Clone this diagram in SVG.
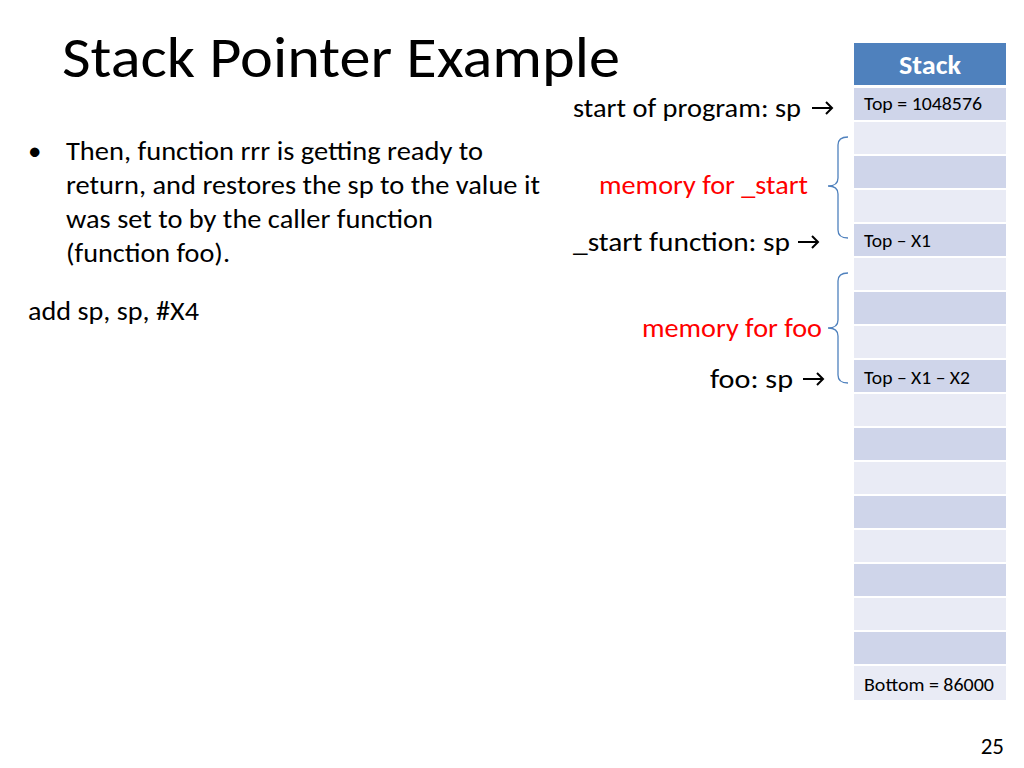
<svg xmlns="http://www.w3.org/2000/svg" width="1024" height="768" viewBox="0 0 1024 768">
<style>
text{font-family:Carlito,Calibri,"Liberation Sans",sans-serif;}
.b{font-size:27px;fill:#000}
.r{font-size:27px;fill:#ff0000}
.c{font-size:18px;fill:#000}
.d{fill:#CFD5EA}.l{fill:#E9EBF5}
.br{fill:none;stroke:#4F81BD;stroke-width:1.3}
</style>
<defs><marker id="a" markerWidth="12" markerHeight="14" refX="9" refY="7" orient="auto" markerUnits="userSpaceOnUse"><path d="M3,1 L9,7 L3,13" fill="none" stroke="#000" stroke-width="2"/></marker></defs>
<rect width="1024" height="768" fill="#fff"/>
<text x="62" y="77" style="font-size:58px" textLength="558" lengthAdjust="spacingAndGlyphs">Stack Pointer Example</text>
<g id="bullet">
<text x="28" y="160" class="b">•</text>
<text x="66" y="160" class="b" textLength="417" lengthAdjust="spacingAndGlyphs">Then, function rrr is getting ready to</text>
<text x="66" y="194" class="b" textLength="474" lengthAdjust="spacingAndGlyphs">return, and restores the sp to the value it</text>
<text x="66" y="228" class="b" textLength="367" lengthAdjust="spacingAndGlyphs">was set to by the caller function</text>
<text x="66" y="262" class="b" textLength="164" lengthAdjust="spacingAndGlyphs">(function foo).</text>
<text x="28" y="320" class="b" textLength="171" lengthAdjust="spacingAndGlyphs">add sp, sp, #X4</text>
</g>
<g id="stack">
<rect x="854" y="43" width="152" height="42" fill="#4F81BD"/>
<text x="899" y="74" style="font-size:26px;font-weight:bold;fill:#fff" textLength="62" lengthAdjust="spacingAndGlyphs">Stack</text>
<rect x="854" y="88" width="152" height="32" class="d"/>
<rect x="854" y="122" width="152" height="32" class="l"/>
<rect x="854" y="156" width="152" height="32" class="d"/>
<rect x="854" y="190" width="152" height="32" class="l"/>
<rect x="854" y="224" width="152" height="32" class="d"/>
<rect x="854" y="258" width="152" height="32" class="l"/>
<rect x="854" y="292" width="152" height="32" class="d"/>
<rect x="854" y="326" width="152" height="32" class="l"/>
<rect x="854" y="360" width="152" height="32" class="d"/>
<rect x="854" y="394" width="152" height="32" class="l"/>
<rect x="854" y="428" width="152" height="32" class="d"/>
<rect x="854" y="462" width="152" height="32" class="l"/>
<rect x="854" y="496" width="152" height="32" class="d"/>
<rect x="854" y="530" width="152" height="32" class="l"/>
<rect x="854" y="564" width="152" height="32" class="d"/>
<rect x="854" y="598" width="152" height="32" class="l"/>
<rect x="854" y="632" width="152" height="32" class="d"/>
<rect x="854" y="666" width="152" height="34" class="l"/>
<text x="864" y="110" class="c" textLength="118" lengthAdjust="spacingAndGlyphs">Top = 1048576</text>
<text x="864" y="247" class="c" textLength="67" lengthAdjust="spacingAndGlyphs">Top – X1</text>
<text x="864" y="384" class="c" textLength="106" lengthAdjust="spacingAndGlyphs">Top – X1 – X2</text>
<text x="864" y="691" class="c" textLength="130" lengthAdjust="spacingAndGlyphs">Bottom = 86000</text>
</g>
<g id="labels">
<text x="573" y="117" class="b" textLength="228" lengthAdjust="spacingAndGlyphs">start of program: sp</text>
<text x="599" y="194" class="r" textLength="209" lengthAdjust="spacingAndGlyphs">memory for _start</text>
<text x="573" y="251" class="b" textLength="217" lengthAdjust="spacingAndGlyphs">_start function:  sp</text>
<text x="642" y="337" class="r" textLength="180" lengthAdjust="spacingAndGlyphs">memory for foo</text>
<text x="710" y="388" class="b" textLength="83" lengthAdjust="spacingAndGlyphs">foo:  sp</text>
</g>
<g id="connectors">
<line x1="812" y1="108" x2="832" y2="108" stroke="#000" stroke-width="2" marker-end="url(#a)"/>
<line x1="798" y1="242" x2="818" y2="242" stroke="#000" stroke-width="2" marker-end="url(#a)"/>
<line x1="803" y1="379" x2="823" y2="379" stroke="#000" stroke-width="2" marker-end="url(#a)"/>
<path class="br" d="M848,137 Q838,137 838,145 L838,178 Q838,186 828,186 Q838,186 838,194 L838,230 Q838,238 848,238"/>
<path class="br" d="M848,273 Q838,273 838,281 L838,320 Q838,328 828,328 Q838,328 838,336 L838,375 Q838,383 848,383"/>
</g>
<text x="1004" y="754" text-anchor="end" style="font-size:23px">25</text>
</svg>
